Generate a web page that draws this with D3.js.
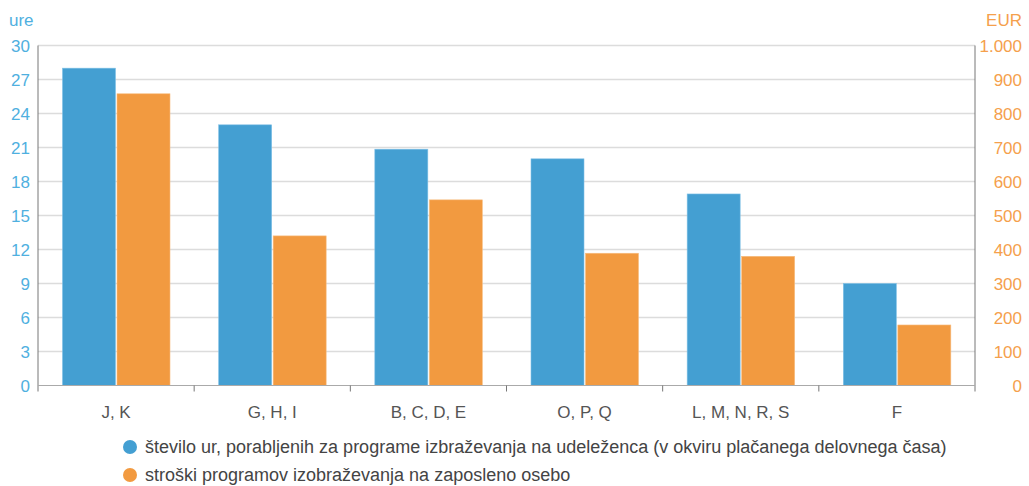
<!DOCTYPE html>
<html><head><meta charset="utf-8">
<script src="https://cdn.jsdelivr.net/npm/d3@7"></script>
<style>body{margin:0;background:#fff}svg{display:block}text{font-family:"Liberation Sans",Arial,sans-serif}</style>
</head><body><svg id="c" width="1029" height="486"></svg>
<script>
const categories = ["J, K","G, H, I","B, C, D, E","O, P, Q","L, M, N, R, S","F"];
const hours = [28, 23, 20.85, 20, 16.9, 9];
const costs = [858, 440, 546, 389, 380, 178];
const leftTicks = [0,3,6,9,12,15,18,21,24,27,30];
const rightTicks = [0,100,200,300,400,500,600,700,800,900,1000];
const legendLabels = ["število ur, porabljenih za programe izbraževanja na udeleženca (v okviru plačanega delovnega časa)","stroški programov izobraževanja na zaposleno osebo"];
const blue = "#449fd2", orange = "#f29a40";

const svg = d3.select("#c");
const L = 38, R = 975, T = 45.5, B = 385.5;
const x = d3.scaleBand().domain(categories).range([L, R]).paddingInner(0).paddingOuter(0);
const yL = d3.scaleLinear().domain([0,30]).range([B,T]);
const yR = d3.scaleLinear().domain([0,1000]).range([B,T]);
const fmt = d => d >= 1000 ? d3.format(",")(d).replace(",", ".") : String(d);

// gridlines
svg.append("g").selectAll("line").data(leftTicks.filter(d=>d>0)).join("line")
  .attr("x1", L).attr("x2", R).attr("y1", d=>yL(d)).attr("y2", d=>yL(d))
  .attr("stroke", "#dcdcdc").attr("stroke-width", 1.5);

// bars
const pad = 24.5, bw = 53, gap = 1.5;
const g = svg.append("g");
g.selectAll(".b").data(categories).join("rect")
  .attr("x", d => x(d) + pad).attr("width", bw)
  .attr("y", (d,i) => yL(hours[i])).attr("height", (d,i) => B - yL(hours[i]))
  .attr("fill", blue).attr("stroke", "#7fc0e6").attr("stroke-width", 0.6);
g.selectAll(".o").data(categories).join("rect")
  .attr("x", d => x(d) + pad + bw + gap).attr("width", bw)
  .attr("y", (d,i) => yR(costs[i])).attr("height", (d,i) => B - yR(costs[i]))
  .attr("fill", orange).attr("stroke", "#f7bd80").attr("stroke-width", 0.6);

// axes lines
svg.append("line").attr("x1", L).attr("x2", L).attr("y1", T).attr("y2", B+6).attr("stroke", "#777").attr("stroke-width", 1);
svg.append("line").attr("x1", R).attr("x2", R).attr("y1", T).attr("y2", B+6).attr("stroke", "#777").attr("stroke-width", 1);
svg.append("line").attr("x1", L).attr("x2", R).attr("y1", B).attr("y2", B).attr("stroke", "#aaa").attr("stroke-width", 1.2);
// x ticks at band boundaries
const bounds = categories.map(c => x(c)).slice(1);
svg.append("g").selectAll("line").data(bounds).join("line")
  .attr("x1", d=>d).attr("x2", d=>d).attr("y1", B).attr("y2", B+6).attr("stroke", "#777");

// x labels
svg.append("g").selectAll("text").data(categories).join("text")
  .attr("x", d => x(d) + x.bandwidth()/2).attr("y", 418)
  .attr("text-anchor", "middle").attr("fill", "#555").attr("font-size", 17).text(d=>d);

// left tick labels
svg.append("g").selectAll("text").data(leftTicks).join("text")
  .attr("x", 30).attr("y", d => yL(d) + 6).attr("text-anchor", "end")
  .attr("fill", "#4fb0df").attr("font-size", 17).text(d=>d);
svg.append("text").attr("x", 9).attr("y", 26).attr("fill", "#4fb0df").attr("font-size", 17).text("ure");

// right tick labels
svg.append("g").selectAll("text").data(rightTicks).join("text")
  .attr("x", 1022).attr("y", d => yR(d) + 6).attr("text-anchor", "end")
  .attr("fill", "#f5a04c").attr("font-size", 17).text(fmt);
svg.append("text").attr("x", 1022).attr("y", 26).attr("text-anchor", "end").attr("fill", "#f5a04c").attr("font-size", 17).text("EUR");

// legend
const lg = svg.append("g").selectAll("g").data(legendLabels).join("g")
  .attr("transform", (d,i) => `translate(130,${447 + i*28})`);
lg.append("circle").attr("r", 7).attr("fill", (d,i) => i ? orange : blue);
lg.append("text").attr("x", 15).attr("y", 6).attr("fill", "#444").attr("font-size", 18).text(d=>d);
</script></body></html>
